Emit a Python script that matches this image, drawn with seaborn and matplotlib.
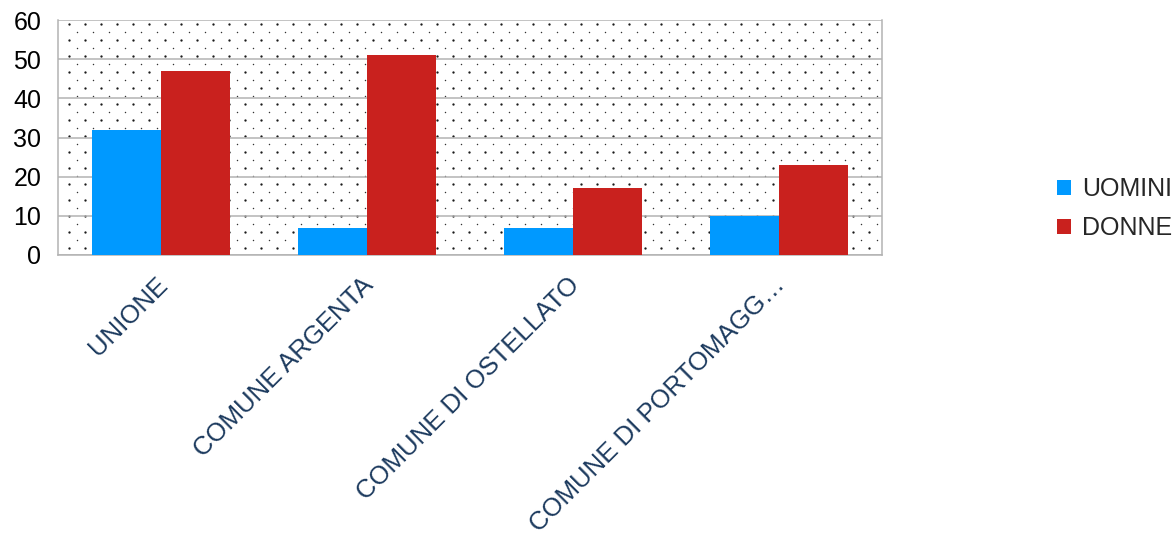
import matplotlib
matplotlib.use('Agg')
import matplotlib.pyplot as plt
import matplotlib.transforms as mtransforms
import seaborn as sns
import numpy as np
import pandas as pd

# dati
categorie = ['UNIONE', 'COMUNE ARGENTA', 'COMUNE DI OSTELLATO', 'COMUNE DI PORTOMAGG…']
uomini = [32, 7, 7, 10]
donne = [47, 51, 17, 23]
serie = ['UOMINI', 'DONNE']
colori = ['#0099ff', '#c9211e']

df = pd.DataFrame({
    'comune': categorie * 2,
    'valore': uomini + donne,
    'sesso': ['UOMINI'] * len(categorie) + ['DONNE'] * len(categorie),
})

sns.set_style('white')
plt.rcParams['font.family'] = ['Liberation Sans', 'DejaVu Sans']

fig = plt.figure(figsize=(11.72, 5.33), dpi=100)
ax = fig.add_axes([58 / 1172, 1 - 255 / 533, 824 / 1172, 235 / 533])

sns.barplot(data=df, x='comune', y='valore', hue='sesso', hue_order=serie,
            palette=colori, width=0.67, saturation=1, ax=ax, zorder=3,
            linewidth=0, legend=True)

# sfondo puntinato
w, h = 824, 235
xs = np.arange(11, w, 16)
ys = np.arange(h - 4, 0, -16)
gx, gy = np.meshgrid(xs, ys)
ax.scatter(gx.ravel() / w, gy.ravel() / h, s=2.8, color='#1a1a1a',
           transform=ax.transAxes, zorder=1, linewidths=0)
gx2, gy2 = np.meshgrid(xs + 8, ys - 8)
m = (gx2 < w) & (gy2 > 0)
ax.scatter(gx2[m] / w, gy2[m] / h, s=1.1, color='#333333',
           transform=ax.transAxes, zorder=1, linewidths=0)

ax.set_ylim(0, 60)
ax.set_xlim(-0.5, len(categorie) - 0.5)
ax.set_yticks(range(0, 61, 10))
ax.yaxis.grid(True, color='#b3b3b3', linewidth=1.1)
ax.set_axisbelow(False)
for line in ax.get_ygridlines():
    line.set_zorder(2)

ax.set_xlabel('')
ax.set_ylabel('')

ax.spines['top'].set_visible(False)
for s in ['left', 'right', 'bottom']:
    ax.spines[s].set_color('#b3b3b3')
    ax.spines[s].set_linewidth(1.1)

ax.tick_params(axis='y', length=8, color='#b3b3b3', width=1.1,
               labelsize=18, labelcolor='black', pad=4)
ax.set_xticks(np.arange(-0.5, len(categorie), 1), minor=True)
ax.tick_params(axis='x', which='minor', length=8, color='#b3b3b3', width=1.1)
ax.tick_params(axis='x', which='major', length=0, pad=13)
ax.set_xticks(range(len(categorie)))
ax.set_xticklabels(categorie, rotation=45, ha='right', rotation_mode='anchor',
                   fontsize=18.5, color='#1c3a5e')
spost = mtransforms.ScaledTranslation(-6 / 100, 0, fig.dpi_scale_trans)
for lab in ax.get_xticklabels():
    lab.set_transform(lab.get_transform() + spost)

ax.legend(handles=ax.get_legend_handles_labels()[0], labels=serie,
          loc='center left', bbox_to_anchor=(1.2, 0.196), frameon=False,
          fontsize=18, handlelength=0.55, handleheight=0.55, handletextpad=0.45,
          labelspacing=0.6, borderaxespad=0)

plt.savefig('out.png', dpi=100)
